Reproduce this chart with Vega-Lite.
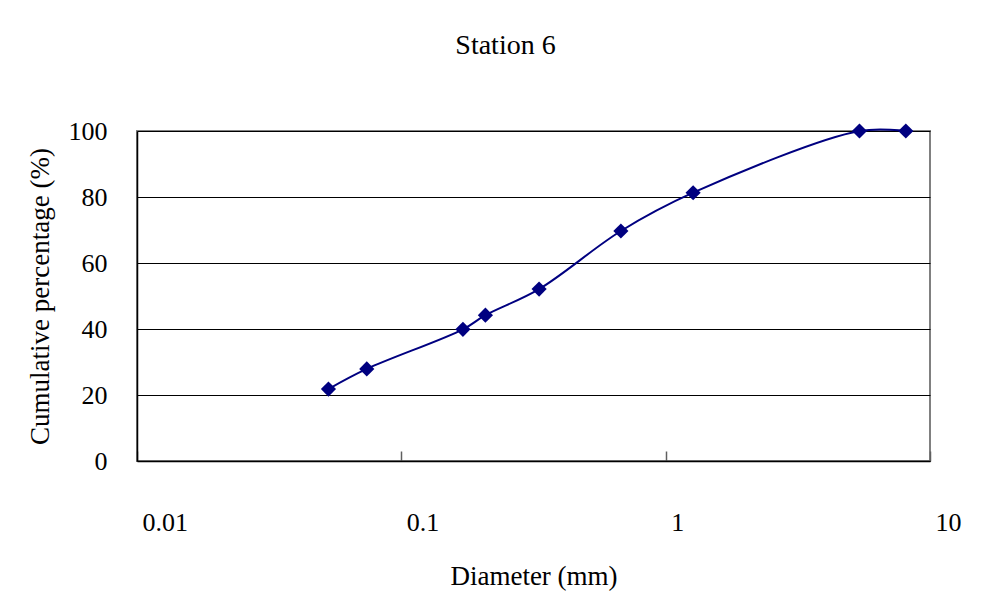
{
  "$schema": "https://vega.github.io/schema/vega-lite/v6.json",
  "width": 793,
  "height": 330,
  "autosize": {"type": "none"},
  "padding": {"left": 137, "top": 131, "right": 75, "bottom": 145},
  "background": "white",
  "title": {
    "text": "Station 6",
    "font": "Liberation Serif",
    "fontSize": 28,
    "fontWeight": "normal",
    "color": "black",
    "anchor": "middle",
    "frame": "group",
    "dx": -28,
    "baseline": "alphabetic",
    "offset": 36
  },
  "config": {
    "view": {"stroke": "#808080", "strokeWidth": 2},
    "axis": {
      "labelFont": "Liberation Serif",
      "titleFont": "Liberation Serif",
      "labelColor": "black",
      "titleColor": "black",
      "titleFontWeight": "normal",
      "domainColor": "black",
      "domainWidth": 1.5
    }
  },
  "data": {
    "values": [
      {"diameter": 0.053, "cumulative": 21.8},
      {"diameter": 0.074, "cumulative": 27.9},
      {"diameter": 0.171, "cumulative": 39.9},
      {"diameter": 0.208, "cumulative": 44.2},
      {"diameter": 0.332, "cumulative": 52.1},
      {"diameter": 0.677, "cumulative": 69.7},
      {"diameter": 1.27, "cumulative": 81.3},
      {"diameter": 5.41, "cumulative": 100},
      {"diameter": 8.1, "cumulative": 100}
    ]
  },
  "encoding": {
    "x": {
      "field": "diameter",
      "type": "quantitative",
      "scale": {"type": "log", "domain": [0.01, 10], "nice": false},
      "axis": {
        "title": "Diameter (mm)",
        "titleFontSize": 27,
        "titlePadding": 28,
        "values": [0.01, 0.1, 1, 10],
        "format": "~g",
        "labelFontSize": 26,
        "labelAlign": "left",
        "labelOffset": 5,
        "labelPadding": 79,
        "labelBaseline": "alphabetic",
        "tickSize": -10,
        "tickColor": "#606060",
        "tickWidth": 1.5,
        "grid": false
      }
    },
    "y": {
      "field": "cumulative",
      "type": "quantitative",
      "scale": {"domain": [0, 100], "nice": false},
      "axis": {
        "title": "Cumulative percentage (%)",
        "titleFontSize": 27,
        "titlePadding": 14,
        "values": [0, 20, 40, 60, 80, 100],
        "labelFontSize": 26,
        "labelPadding": 30,
        "ticks": false,
        "grid": true,
        "gridColor": "black",
        "gridWidth": 1
      }
    }
  },
  "layer": [
    {
      "mark": {"type": "line", "interpolate": "catmull-rom", "color": "#000080", "strokeWidth": 2}
    },
    {
      "mark": {"type": "point", "shape": "diamond", "filled": true, "size": 230, "color": "#000080", "opacity": 1}
    }
  ]
}
